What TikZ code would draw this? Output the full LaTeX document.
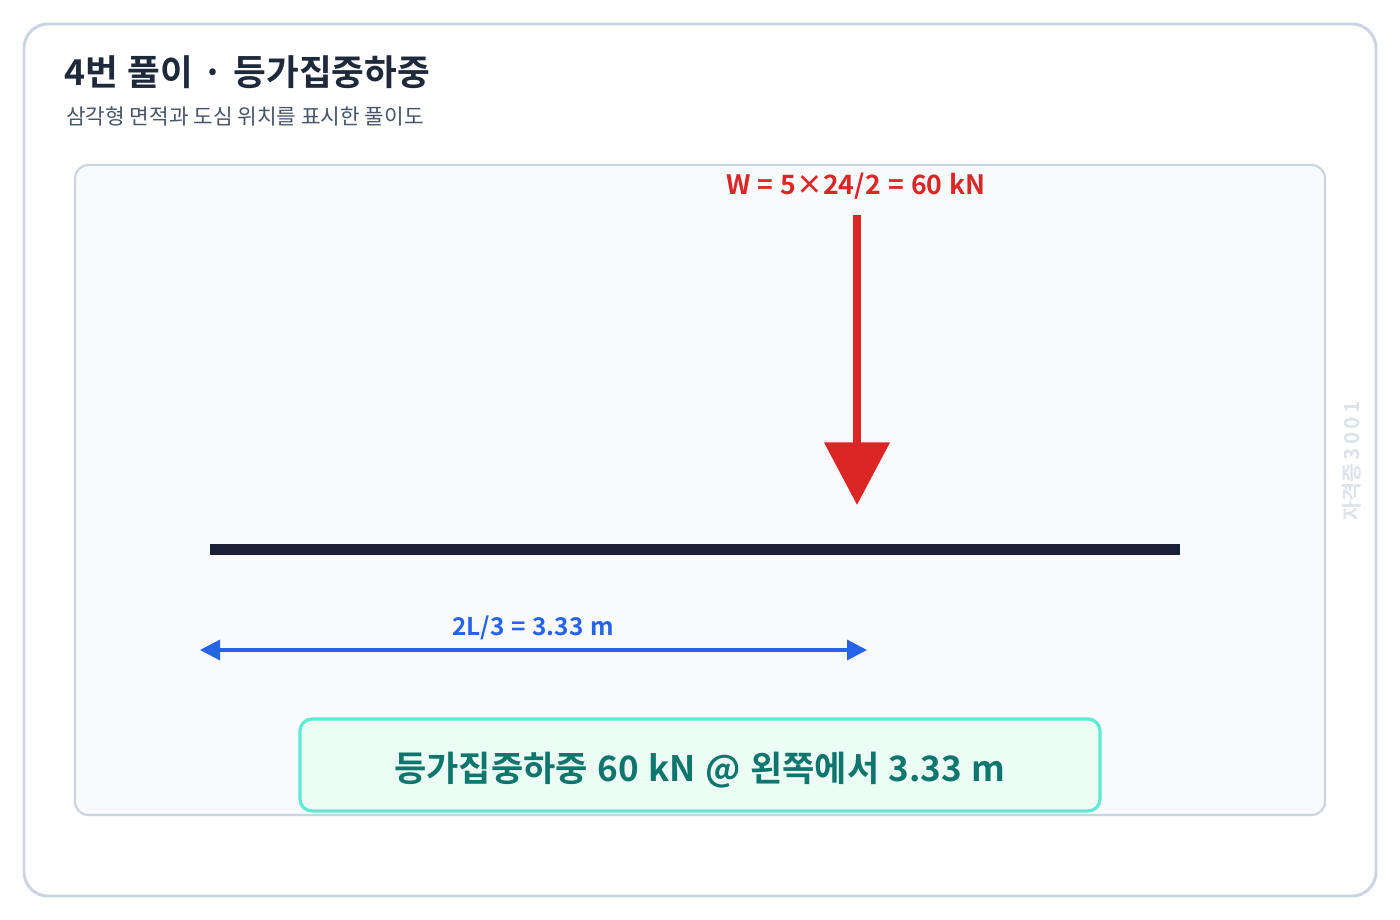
\documentclass[tikz,border=0pt]{standalone}
\usepackage{fontspec}
\setmainfont{Noto Sans CJK KR}
\newfontfamily\krbold{Noto Sans CJK KR Bold}
\newfontfamily\krboldw[WordSpace=1.4]{Noto Sans CJK KR Bold}
\newfontfamily\krboldg[WordSpace=1.2]{Noto Sans CJK KR Bold}
\usetikzlibrary{arrows.meta}
\definecolor{frame}{HTML}{CBD5E1}
\definecolor{panel}{HTML}{F8FAFC}
\definecolor{titlec}{HTML}{1E293B}
\definecolor{subc}{HTML}{475569}
\definecolor{redc}{HTML}{DC2626}
\definecolor{bluec}{HTML}{2563EB}
\definecolor{beamc}{HTML}{1A2035}
\definecolor{greenfill}{HTML}{ECFDF5}
\definecolor{greenline}{HTML}{5EEAD4}
\definecolor{greentext}{HTML}{0F766E}
\definecolor{wmc}{HTML}{DDE3EA}
\tikzset{
  px/.style={x=0.75pt,y=-0.75pt},
  lbl/.style={inner sep=0pt,anchor=base},
}
\begin{document}
\begin{tikzpicture}[px]
\useasboundingbox (0,0) rectangle (1400,920);
\fill[white] (0,0) rectangle (1400,920);
% outer card
\draw[frame,line width=2.2pt,rounded corners=18pt] (24,24) rectangle (1376,896);
% title
\node[lbl,anchor=base west,text=titlec,font=\krbold\fontsize{26.7pt}{32pt}\selectfont] (title) at (64,86) {4번 풀이 · 등가집중하중};
\node[lbl,anchor=base west,text=subc,font=\fontsize{16pt}{19pt}\selectfont] (sub) at (66,125) {삼각형 면적과 도심 위치를 표시한 풀이도};
% inner panel
\draw[frame,fill=panel,line width=1.6pt,rounded corners=10pt] (75,165) rectangle (1325,815);
% watermark
\node[text=wmc,rotate=90,inner sep=0pt,font=\krbold\fontsize{15.5pt}{18pt}\selectfont] (wm) at (1352,461) {자격증\,3\,0\,0\,1};
% load
\node[lbl,text=redc,font=\krboldw\fontsize{20pt}{24pt}\selectfont] (wlabel) at (856,195) {W = 5×24/2 = 60 kN};
\coordinate (ltop) at (857,215);
\coordinate (ltip) at (857,505);
\draw[redc,line width=6pt,-{Triangle[length=47pt,width=48pt]}] (ltop) -- (ltip);
% beam
\fill[beamc] (210,544) rectangle (1180,555);
\node[inner sep=0pt] (beam) at (695,549.5) {};
% dimension
\coordinate (dl) at (200,650);
\coordinate (dr) at (867,650);
\draw[bluec,line width=2.4pt,{Triangle[length=15pt,width=15pt]}-{Triangle[length=15pt,width=15pt]}] (dl) -- (dr);
\node[lbl,text=bluec,font=\krbold\fontsize{18.3pt}{22pt}\selectfont] (dlabel) at (533,635) {2L/3 = 3.33 m};
% result box
\node[draw=greenline,fill=greenfill,line width=2.4pt,rounded corners=9pt,minimum width=600pt,minimum height=69pt,inner sep=0pt] (res) at (700,765) {};
\node[lbl,text=greentext,font=\krboldg\fontsize{26.3pt}{31pt}\selectfont] (restext) at (700,781) {등가집중하중 60 kN @ 왼쪽에서 3.33 m};
\end{tikzpicture}
\end{document}
